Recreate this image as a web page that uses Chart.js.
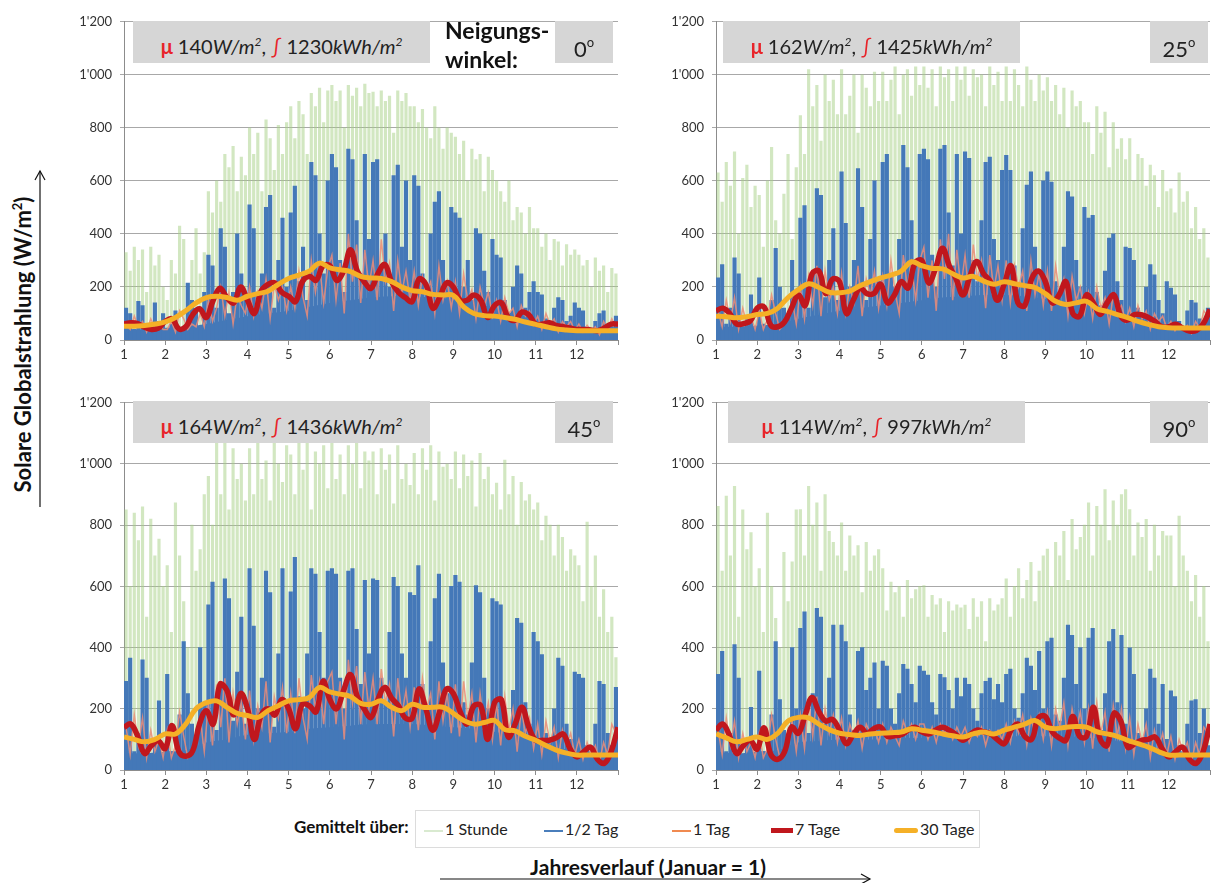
<!DOCTYPE html>
<html>
<head>
<meta charset="utf-8">
<script src="https://cdn.jsdelivr.net/npm/chart.js@4.4.1/dist/chart.umd.min.js"></script>
<style>
  body { margin:0; background:#fff; font-family: Lato, "Open Sans", sans-serif; }
  #fig { position:relative; width:1212px; height:883px; overflow:hidden; }
  canvas { position:absolute; }
  .box { position:absolute; background:#d6d6d6; height:42px; line-height:42px; text-align:center; font-size:20px; color:#222; z-index:2; }
  .box i { font-style:italic; }
  .red { color:#e8242a; font-weight:bold; }
  .ang { font-size:22px; }
  .ang sup { font-size:13px; vertical-align:10px; }
  .lbl { position:absolute; font-weight:bold; color:#111; z-index:2; white-space:nowrap; }
  .leg { position:absolute; left:415px; top:810px; width:563px; height:36px; border:1px solid #dcdcdc; font-size:16px; color:#222; }
  .leg span.it { position:absolute; top:8px; }
  .leg span.sw { display:inline-block; width:19px; vertical-align:middle; margin-right:2px; }
</style>
</head>
<body>
<div id="fig">
  <canvas id="c0" width="585" height="364" style="left:40px;top:6px"></canvas>
  <canvas id="c1" width="585" height="364" style="left:632px;top:6px"></canvas>
  <canvas id="c2" width="585" height="413" style="left:40px;top:387px"></canvas>
  <canvas id="c3" width="585" height="413" style="left:632px;top:387px"></canvas>
</div>
<script>
// Monate auf der x-Achse, Beschriftung der y-Achse
const monthTicks = [1,2,3,4,5,6,7,8,9,10,11,12];
const yTickLabels = ["0","200","400","600","800","1'000","1'200"];
const angles = ['0','25','45','90'];
const muValues = ['140','162','164','114'];
const sumValues = ['1230','1425','1436','997'];

// 1 Stunde (Spitzen), 10 Werte pro Monat
const hour0 = [330,260,350,300,340,180,350,280,320,200, 150,300,250,430,380,200,300,420,250,330,
  560,480,600,520,700,650,730,560,690,620, 800,700,780,560,830,760,640,810,700,820,
  880,760,900,850,700,930,880,950,820,940, 960,900,940,800,960,920,950,880,965,930,
  935,880,940,900,920,780,940,900,930,880, 880,820,870,800,760,880,800,720,800,780,
  765,700,750,600,720,680,700,560,690,640, 600,560,520,600,450,500,480,400,500,420,
  420,350,400,300,380,370,280,360,320,340, 320,280,300,200,310,260,280,180,270,250];
const hour1 = [630,520,670,580,710,400,610,660,500,580, 546,350,600,727,450,400,550,700,380,650,
  846,700,1020,880,960,750,1000,900,980,850, 1020,850,920,1000,780,1000,950,880,1010,900,
  1010,900,980,1030,850,1000,1020,920,1030,960, 1030,950,1020,880,1030,990,1020,900,1030,980,
  1030,920,1020,990,1000,880,1030,960,1010,900, 1030,900,1020,960,880,1030,980,900,1000,940,
  990,900,960,850,950,800,940,880,900,820, 820,700,880,780,860,650,820,720,760,680,
  760,600,700,685,580,660,620,500,640,560, 570,480,630,520,560,420,500,380,420,310];
const hour2 = [850,600,840,750,860,500,820,700,755,600, 668,450,873,700,550,400,800,650,720,900,
  960,800,1080,900,1080,850,1050,950,1000,880, 1050,900,1080,950,1010,880,1070,1000,940,1060,
  1030,900,1070,980,1080,850,1040,1000,1060,920, 1070,950,1030,900,1060,1000,1080,920,1040,1010,
  1040,900,1050,980,1030,870,1060,950,1000,930, 1035,900,1050,980,1060,880,1040,990,1000,950,
  1040,920,1030,960,1010,860,1035,950,990,900, 938,850,1013,900,960,800,940,880,900,850,
  873,750,830,800,700,800,760,650,720,700, 668,550,810,600,700,500,590,450,500,367];
const hour3 = [862,650,895,700,927,500,850,720,776,600, 658,450,840,600,496,400,711,550,680,850,
  851,700,927,800,873,650,900,780,744,700, 808,650,765,700,733,580,744,650,700,720,
  658,520,614,580,600,500,620,560,590,600, 603,500,571,540,560,450,550,520,540,530,
  539,460,560,500,550,420,560,520,540,560, 625,500,600,658,560,620,679,550,650,700,
  722,600,744,700,780,620,819,720,760,800, 873,700,862,800,916,750,880,800,900,916,
  851,700,808,760,819,650,800,700,780,765, 765,600,830,700,650,550,636,500,600,420];

// 1/2 Tag (Tageshälften-Spitzen), 10 Werte pro Monat
const half0 = [120,100,40,146,130,50,35,140,70,100, 45,60,110,40,50,215,150,120,50,180,
  320,280,120,420,350,100,180,400,250,160, 510,420,180,250,500,546,120,300,460,200,
  480,580,220,350,150,670,620,400,250,600, 700,650,300,180,720,680,450,250,700,380,
  670,680,280,400,200,620,660,350,600,300, 620,580,250,180,400,520,560,300,220,500,
  480,460,200,300,150,420,400,260,180,380, 320,310,150,100,200,280,250,120,180,220,
  180,170,80,60,120,160,150,70,90,140, 120,110,50,40,70,100,110,60,50,90];
const half1 = [234,284,60,120,310,250,50,90,170,40, 234,60,50,150,346,200,120,90,300,180,
  460,507,120,250,571,546,160,300,420,150, 634,440,200,300,646,500,150,380,600,220,
  670,700,250,200,380,734,650,450,300,700, 720,680,320,200,720,734,480,280,700,400,
  710,685,300,220,450,670,690,380,300,640, 696,640,280,200,420,584,634,350,250,600,
  634,596,220,180,350,560,540,300,200,500, 460,470,180,130,260,384,400,220,150,350,
  346,300,120,90,200,284,246,150,100,220, 196,170,70,50,110,150,140,80,60,120];
const half2 = [290,366,60,120,360,300,50,100,226,50, 313,60,50,180,420,250,150,100,400,220,
  540,614,130,280,625,560,160,320,500,150, 658,470,200,300,650,580,140,380,658,220,
  582,695,240,200,380,658,640,450,300,650, 658,640,300,200,650,658,460,280,620,380,
  625,620,300,220,450,630,600,380,300,580, 571,668,280,200,420,560,640,350,250,600,
  636,614,220,180,350,603,580,300,200,560, 550,540,180,130,260,496,480,220,150,450,
  420,377,120,90,200,366,340,150,100,320, 313,300,80,60,150,290,280,120,80,270];
const half3 = [313,388,60,120,410,300,50,100,205,50, 323,60,50,180,420,230,130,100,400,200,
  463,517,120,250,528,500,150,300,474,140, 474,420,180,130,388,400,260,300,350,200,
  356,340,200,150,250,345,330,280,220,340, 323,310,220,180,313,302,260,200,300,240,
  300,280,200,160,250,290,300,230,280,220, 313,330,200,170,250,366,340,260,388,200,
  420,431,180,160,300,474,440,280,400,200, 431,463,160,130,250,420,460,220,440,150,
  399,313,120,90,200,330,300,150,280,100, 259,240,80,60,150,226,230,120,200,80];

// 1/2 Tag, geschlossener Sockel, 2 Werte pro Monat (+ Jahresende)
const halfBase0 = [40,40,45,50,60,75,90,100,110,125,140,150,160,165,165,160,150,140,120,100,80,60,45,35,30];
const halfBase1 = [50,50,55,60,80,95,110,120,130,140,150,160,165,170,170,165,155,145,130,110,90,70,55,45,40];
const halfBase2 = [55,55,60,65,90,100,115,120,125,135,140,145,150,150,150,145,140,135,125,110,95,75,60,50,45];
const halfBase3 = [60,55,60,65,90,95,100,100,100,105,105,110,110,110,110,110,110,110,105,100,90,75,60,50,45];

// 1 Tag, 10 Werte pro Monat
const day0 = [60,40,90,50,70,30,80,45,60,40, 40,70,30,110,80,40,60,50,100,50,
  150,70,120,200,90,180,60,170,130,100, 200,90,180,120,230,80,210,150,200,110,
  200,120,260,160,90,300,180,280,140,270, 320,150,290,100,400,220,360,140,340,200,
  300,150,380,220,290,110,300,180,260,150, 260,130,240,180,220,100,280,150,220,120,
  220,100,250,150,190,80,200,130,180,90, 150,70,160,100,120,50,130,90,110,60,
  90,40,100,60,80,30,70,50,70,35, 60,30,55,35,50,20,70,40,80,50];
const day1 = [110,50,150,70,160,40,120,60,90,40, 110,40,80,170,100,40,60,90,150,60,
  200,80,240,130,280,90,260,150,200,100, 250,100,200,140,280,90,230,170,260,120,
  240,130,300,180,100,320,200,290,150,300, 350,160,300,110,380,230,400,150,340,200,
  320,160,360,230,300,120,320,190,280,150, 300,140,280,200,260,110,300,170,250,130,
  260,110,280,170,230,90,240,150,200,100, 180,80,200,120,160,60,170,110,130,70,
  120,50,130,80,110,40,100,70,90,45, 70,35,60,40,55,25,70,45,110,90];
const day2 = [140,50,180,80,170,40,130,60,100,40, 130,40,80,190,110,40,60,100,170,60,
  220,80,280,140,300,90,250,150,220,100, 260,100,210,140,290,90,240,170,270,120,
  250,120,300,170,100,310,200,290,150,290, 320,150,290,100,360,220,340,150,320,200,
  300,150,330,220,280,110,300,180,260,140, 270,130,300,200,250,100,290,160,250,120,
  280,110,290,170,250,90,250,150,220,100, 220,80,240,130,200,60,200,120,170,70,
  150,50,160,90,140,40,130,80,120,50, 100,35,90,50,80,25,90,50,150,120];
const day3 = [130,50,170,80,160,40,120,60,90,40, 120,40,70,180,100,40,60,90,160,60,
  180,70,230,110,240,80,200,120,180,90, 170,80,150,110,160,70,150,120,140,90,
  150,90,140,110,80,160,120,150,100,150, 150,100,140,90,150,120,140,100,140,110,
  140,90,130,110,140,80,130,110,130,100, 150,90,160,120,180,80,170,120,180,100,
  190,80,200,140,220,80,200,130,190,90, 200,70,220,120,190,60,210,110,200,70,
  170,50,150,90,150,40,130,70,120,50, 110,35,100,60,90,25,90,50,140,120];

// 7 Tage, 6 Werte pro Monat (+ Jahresende)
const week0 = [60,65,62,48,40,45, 70,80,42,50,95,118, 85,150,195,160,140,200, 150,100,185,210,215,180,
  165,145,220,240,225,280, 280,225,260,340,260,220, 195,250,285,220,180,160, 145,230,210,120,160,215,
  200,150,150,170,150,85, 130,140,85,75,105,95, 60,60,65,55,50,45, 40,40,38,35,45,60, 60];
const week1 = [110,120,100,60,62,72, 120,125,55,50,68,120, 170,130,250,260,175,230, 220,100,150,196,175,175,
  210,140,170,220,196,290, 300,215,270,346,280,230, 170,240,296,250,220,150, 210,280,140,130,230,260,
  220,140,170,220,100,90, 170,140,96,140,170,90, 75,96,95,85,70,50, 50,59,45,34,36,60, 115];
const week2 = [140,150,110,54,80,95, 70,145,60,45,62,150, 194,150,280,260,180,250, 200,100,180,200,180,230,
  200,135,215,210,190,290, 230,200,260,312,240,200, 172,230,270,235,210,170, 170,265,200,130,190,265,
  250,190,150,210,210,100, 220,230,108,150,205,140, 97,97,97,105,118,70, 43,60,75,35,22,60, 140];
const week3 = [130,150,110,54,80,97, 68,138,50,35,60,140, 120,180,237,190,160,165, 130,86,115,140,120,135,
  140,110,112,115,130,140, 125,118,130,140,130,115, 97,115,130,125,118,100, 86,130,150,110,100,170,
  175,125,105,97,175,110, 110,205,100,80,185,160, 75,85,97,100,108,70, 43,60,75,35,22,60, 150];

// 30 Tage, 4 Werte pro Monat (+ Jahresende)
const month0 = [52,52,55,60, 68,85,110,140, 160,165,160,150, 165,175,184,210, 232,245,260,290, 272,265,258,240,
  234,232,220,200, 186,182,172,170, 168,125,100,92, 90,85,78,68, 59,50,42,38, 35,35,35,35, 35];
const month1 = [90,88,84,88, 96,100,120,160, 190,212,198,180, 178,184,205,220, 234,245,260,295, 280,270,268,250,
  234,240,222,210, 220,212,205,198, 175,146,134,140, 146,118,108,96, 84,70,59,50, 46,45,45,45, 45];
const month2 = [108,100,92,100, 118,118,150,200, 220,226,205,185, 178,172,194,210, 226,230,237,270, 255,248,240,218,
  215,226,205,194, 215,205,205,205, 185,162,150,155, 162,132,128,110, 97,80,65,55, 49,49,49,49, 49];
const month3 = [118,105,92,100, 108,100,120,160, 172,170,150,132, 120,116,113,118, 120,122,124,135, 130,125,118,112,
  108,118,124,118, 130,140,150,162, 140,135,140,142, 140,125,118,110, 97,86,75,60, 49,49,49,49, 49];

const panels = [
  { id:'c0', hour:hour0, half:half0, base:halfBase0, day:day0, week:week0, month:month0 },
  { id:'c1', hour:hour1, half:half1, base:halfBase1, day:day1, week:week1, month:month1 },
  { id:'c2', hour:hour2, half:half2, base:halfBase2, day:day2, week:week2, month:month2 },
  { id:'c3', hour:hour3, half:half3, base:halfBase3, day:day3, week:week3, month:month3 }
];

// Index -> Zeitpunkt im Jahr (Monat)
function pts(arr, perMonth, off) {
  return arr.map((v, i) => ({ x: monthTicks[0] + (i + off) / perMonth, y: v }));
}

const tickFont = { family: 'Lato', size: 13 };
const blue = '#4478b8';

function makeChart(p) {
  return new Chart(document.getElementById(p.id), {
    type: 'line',
    data: { datasets: [
      { type:'line', label:'30 Tage', data:pts(p.month,4,0), borderColor:'#f5b027', borderWidth:5, pointRadius:0, tension:0.4, order:1 },
      { type:'line', label:'7 Tage', data:pts(p.week,6,0), borderColor:'#c0171d', borderWidth:5.5, pointRadius:0, tension:0.4, order:2 },
      { type:'line', label:'1 Tag', data:pts(p.day,10,0.5), borderColor:'rgba(236,140,120,0.85)', borderWidth:1.5, pointRadius:0, tension:0, order:3 },
      { type:'bar', label:'1/2 Tag', data:pts(p.half,10,0.5), backgroundColor:blue, barThickness:3.5, grouped:false, order:4 },
      { type:'line', label:'1/2 Tag Sockel', data:pts(p.base,2,0), borderWidth:0, backgroundColor:blue, fill:'origin', pointRadius:0, tension:0.4, order:5 },
      { type:'bar', label:'1 Stunde', data:pts(p.hour,10,0.5), backgroundColor:'rgba(165,208,132,0.5)', barThickness:2.5, grouped:false, order:6 }
    ]},
    options: {
      responsive:false, animation:false, events:[],
      layout:{ padding:{ top:12, right:7, left:0, bottom:0 } },
      plugins:{ legend:{ display:false }, tooltip:{ enabled:false } },
      scales:{
        x:{ type:'linear', min:1, max:13, offset:false,
            ticks:{ stepSize:1, autoSkip:false, maxRotation:0, font:tickFont, color:'#333', padding:2,
                    callback: v => monthTicks.includes(v) ? String(v) : '' },
            grid:{ drawOnChartArea:false, offset:false, tickLength:5, color:'#8c8c8c' },
            border:{ color:'#8c8c8c' },
            afterFit: s => { s.height = 30; } },
        y:{ min:0, max:1200,
            ticks:{ stepSize:200, font:tickFont, color:'#333', padding:8, callback: v => yTickLabels[v / 200] },
            grid:{ color:'#a8a8a8', tickLength:4 },
            border:{ color:'#8c8c8c' },
            afterFit: s => { s.width = 84; } }
      }
    }
  });
}
panels.forEach(makeChart);

// Kopfzeilen der Felder
const fig = document.getElementById('fig');
const boxPos = [[133,21,555],[723,21,1150],[133,401,555],[728,401,1150]];
boxPos.forEach((b, i) => {
  const v = document.createElement('div');
  v.className = 'box';
  v.style.cssText = `left:${b[0]}px;top:${b[1]}px;width:297px;`;
  v.innerHTML = `<span class="red">&mu;</span> ${muValues[i]}<i>W/m<sup style="font-size:12px">2</sup></i>, <span class="red" style="font-weight:normal">&int;</span> ${sumValues[i]}<i>kWh/m<sup style="font-size:12px">2</sup></i>`;
  fig.appendChild(v);
  const a = document.createElement('div');
  a.className = 'box ang';
  a.style.cssText = `left:${b[2]}px;top:${b[1]}px;width:58px;`;
  a.innerHTML = `${angles[i]}<sup>o</sup>`;
  fig.appendChild(a);
});
</script>
<div class="lbl" style="left:445px;top:16px;font-size:23px;line-height:29px;">Neigungs-<br>winkel:</div>
<div class="lbl" style="left:-178px;top:331px;width:400px;text-align:center;font-size:22px;transform:rotate(-90deg);">Solare Globalstrahlung (W/m<sup style="font-size:13px">2</sup>)</div>
<div class="lbl" style="left:294px;top:816px;font-size:17px;">Gemittelt über:</div>
<div class="leg">
  <span class="it" style="left:8px"><span class="sw" style="border-top:2px solid #d9ead0"></span>1 Stunde</span>
  <span class="it" style="left:128px"><span class="sw" style="border-top:2px solid #4a7ebb"></span>1/2 Tag</span>
  <span class="it" style="left:256px"><span class="sw" style="border-top:2px solid #f08a50"></span>1 Tag</span>
  <span class="it" style="left:355px"><span class="sw" style="border-top:5px solid #c0171d;width:22px"></span>7 Tage</span>
  <span class="it" style="left:478px"><span class="sw" style="border-top:5px solid #f5b027;border-radius:3px;width:24px"></span>30 Tage</span>
</div>
<div class="lbl" style="left:448px;top:854px;width:400px;text-align:center;font-size:21px;">Jahresverlauf (Januar = 1)</div>
<svg style="position:absolute;left:0;top:0;z-index:3" width="1212" height="883">
  <line x1="40" y1="507" x2="40" y2="171" stroke="#111" stroke-width="1.2"/>
  <polyline points="35,180 40,171 45,180" fill="none" stroke="#111" stroke-width="1.2"/>
  <line x1="440" y1="879" x2="870" y2="879" stroke="#111" stroke-width="1.2"/>
  <polyline points="861,874 870,879 861,884" fill="none" stroke="#111" stroke-width="1.2"/>
</svg>
</body>
</html>
